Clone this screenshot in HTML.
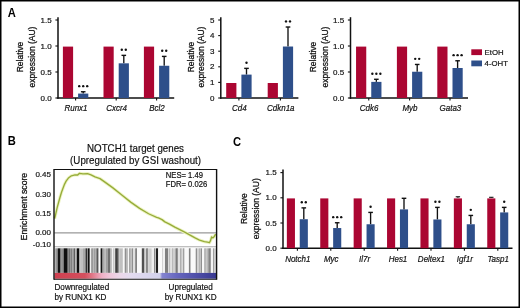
<!DOCTYPE html><html><head><meta charset="utf-8"><style>html,body{margin:0;padding:0;background:#fff}svg{display:block;will-change:transform}text{font-family:"Liberation Sans",sans-serif}</style></head><body>
<svg width="520" height="308" viewBox="0 0 520 308">
<rect x="0" y="0" width="520" height="308" fill="#fff"/>
<text transform="translate(7.7,17.1) scale(1,1.08)" font-size="11.2" text-anchor="start" font-weight="bold" fill="#000" >A</text>
<text transform="translate(7.7,145.4) scale(1,1.08)" font-size="11.2" text-anchor="start" font-weight="bold" fill="#000" >B</text>
<text transform="translate(232.9,145.7) scale(1,1.08)" font-size="11.2" text-anchor="start" font-weight="bold" fill="#000" >C</text>
<text transform="translate(23.4,57) rotate(-90) scale(1,1.1)" font-size="8.5" text-anchor="middle" fill="#111" stroke="#111" stroke-width="0.25">Relative</text>
<text transform="translate(34.8,57) rotate(-90) scale(1,1.1)" font-size="8.5" text-anchor="middle" fill="#111" stroke="#111" stroke-width="0.25">expression (AU)</text>
<line x1="58" y1="17.2" x2="58" y2="98.75" stroke="#111" stroke-width="1.5"/>
<line x1="57.25" y1="98" x2="174.2" y2="98" stroke="#111" stroke-width="1.5"/>
<line x1="55.4" y1="98.00" x2="58" y2="98.00" stroke="#111" stroke-width="1.1"/>
<text x="51.7" y="100.60" font-size="8.0" text-anchor="end" font-weight="normal" fill="#111" stroke="#111" stroke-width="0.18" >0.0</text>
<line x1="55.4" y1="72.00" x2="58" y2="72.00" stroke="#111" stroke-width="1.1"/>
<text x="51.7" y="74.60" font-size="8.0" text-anchor="end" font-weight="normal" fill="#111" stroke="#111" stroke-width="0.18" >0.5</text>
<line x1="55.4" y1="46.00" x2="58" y2="46.00" stroke="#111" stroke-width="1.1"/>
<text x="51.7" y="48.60" font-size="8.0" text-anchor="end" font-weight="normal" fill="#111" stroke="#111" stroke-width="0.18" >1.0</text>
<line x1="55.4" y1="20.00" x2="58" y2="20.00" stroke="#111" stroke-width="1.1"/>
<text x="51.7" y="22.60" font-size="8.0" text-anchor="end" font-weight="normal" fill="#111" stroke="#111" stroke-width="0.18" >1.5</text>
<rect x="62.90" y="46.60" width="10.2" height="51.40" fill="#ab0632"/>
<line x1="83.20" y1="91.76" x2="83.20" y2="93.58" stroke="#111" stroke-width="1.35"/>
<line x1="80.90" y1="91.76" x2="85.50" y2="91.76" stroke="#111" stroke-width="1.4"/>
<rect x="78.10" y="93.58" width="10.2" height="4.42" fill="#2e4f8a"/>
<circle cx="79.20" cy="86.16" r="1.2" fill="#111"/>
<circle cx="83.20" cy="86.16" r="1.2" fill="#111"/>
<circle cx="87.20" cy="86.16" r="1.2" fill="#111"/>
<line x1="75.60" y1="98" x2="75.60" y2="100.6" stroke="#111" stroke-width="1.1"/>
<text transform="translate(76.00,111.3) scale(1,1.1)" font-size="8.0" text-anchor="middle" font-weight="normal" fill="#111" font-style="italic" stroke="#111" stroke-width="0.18" >Runx1</text>
<rect x="103.50" y="46.60" width="10.2" height="51.40" fill="#ab0632"/>
<line x1="123.80" y1="55.36" x2="123.80" y2="63.32" stroke="#111" stroke-width="1.35"/>
<line x1="121.50" y1="55.36" x2="126.10" y2="55.36" stroke="#111" stroke-width="1.4"/>
<rect x="118.70" y="63.32" width="10.2" height="34.68" fill="#2e4f8a"/>
<circle cx="121.80" cy="49.76" r="1.2" fill="#111"/>
<circle cx="125.80" cy="49.76" r="1.2" fill="#111"/>
<line x1="116.20" y1="98" x2="116.20" y2="100.6" stroke="#111" stroke-width="1.1"/>
<text transform="translate(116.60,111.3) scale(1,1.1)" font-size="8.0" text-anchor="middle" font-weight="normal" fill="#111" font-style="italic" stroke="#111" stroke-width="0.18" >Cxcr4</text>
<rect x="143.90" y="46.60" width="10.2" height="51.40" fill="#ab0632"/>
<line x1="164.20" y1="56.40" x2="164.20" y2="65.76" stroke="#111" stroke-width="1.35"/>
<line x1="161.90" y1="56.40" x2="166.50" y2="56.40" stroke="#111" stroke-width="1.4"/>
<rect x="159.10" y="65.76" width="10.2" height="32.24" fill="#2e4f8a"/>
<circle cx="162.20" cy="50.80" r="1.2" fill="#111"/>
<circle cx="166.20" cy="50.80" r="1.2" fill="#111"/>
<line x1="156.60" y1="98" x2="156.60" y2="100.6" stroke="#111" stroke-width="1.1"/>
<text transform="translate(157.00,111.3) scale(1,1.1)" font-size="8.0" text-anchor="middle" font-weight="normal" fill="#111" font-style="italic" stroke="#111" stroke-width="0.18" >Bcl2</text>
<text transform="translate(193.5,57) rotate(-90) scale(1,1.1)" font-size="8.5" text-anchor="middle" fill="#111" stroke="#111" stroke-width="0.25">Relative</text>
<text transform="translate(204.4,57) rotate(-90) scale(1,1.1)" font-size="8.5" text-anchor="middle" fill="#111" stroke="#111" stroke-width="0.25">expression (AU)</text>
<line x1="220.8" y1="17.2" x2="220.8" y2="98.75" stroke="#111" stroke-width="1.5"/>
<line x1="220.05" y1="98" x2="298.4" y2="98" stroke="#111" stroke-width="1.5"/>
<line x1="218.20000000000002" y1="98.00" x2="220.8" y2="98.00" stroke="#111" stroke-width="1.1"/>
<text x="214.5" y="100.60" font-size="8.0" text-anchor="end" font-weight="normal" fill="#111" stroke="#111" stroke-width="0.18" >0</text>
<line x1="218.20000000000002" y1="82.40" x2="220.8" y2="82.40" stroke="#111" stroke-width="1.1"/>
<text x="214.5" y="85.00" font-size="8.0" text-anchor="end" font-weight="normal" fill="#111" stroke="#111" stroke-width="0.18" >1</text>
<line x1="218.20000000000002" y1="66.80" x2="220.8" y2="66.80" stroke="#111" stroke-width="1.1"/>
<text x="214.5" y="69.40" font-size="8.0" text-anchor="end" font-weight="normal" fill="#111" stroke="#111" stroke-width="0.18" >2</text>
<line x1="218.20000000000002" y1="51.20" x2="220.8" y2="51.20" stroke="#111" stroke-width="1.1"/>
<text x="214.5" y="53.80" font-size="8.0" text-anchor="end" font-weight="normal" fill="#111" stroke="#111" stroke-width="0.18" >3</text>
<line x1="218.20000000000002" y1="35.60" x2="220.8" y2="35.60" stroke="#111" stroke-width="1.1"/>
<text x="214.5" y="38.20" font-size="8.0" text-anchor="end" font-weight="normal" fill="#111" stroke="#111" stroke-width="0.18" >4</text>
<line x1="218.20000000000002" y1="20.00" x2="220.8" y2="20.00" stroke="#111" stroke-width="1.1"/>
<text x="214.5" y="22.60" font-size="8.0" text-anchor="end" font-weight="normal" fill="#111" stroke="#111" stroke-width="0.18" >5</text>
<rect x="226.20" y="83.00" width="10.2" height="15.00" fill="#ab0632"/>
<line x1="246.50" y1="68.36" x2="246.50" y2="74.60" stroke="#111" stroke-width="1.35"/>
<line x1="244.20" y1="68.36" x2="248.80" y2="68.36" stroke="#111" stroke-width="1.4"/>
<rect x="241.40" y="74.60" width="10.2" height="23.40" fill="#2e4f8a"/>
<circle cx="246.50" cy="62.76" r="1.2" fill="#111"/>
<line x1="238.90" y1="98" x2="238.90" y2="100.6" stroke="#111" stroke-width="1.1"/>
<text transform="translate(239.30,111.3) scale(1,1.1)" font-size="8.0" text-anchor="middle" font-weight="normal" fill="#111" font-style="italic" stroke="#111" stroke-width="0.18" >Cd4</text>
<rect x="267.70" y="83.00" width="10.2" height="15.00" fill="#ab0632"/>
<line x1="288.00" y1="27.02" x2="288.00" y2="46.52" stroke="#111" stroke-width="1.35"/>
<line x1="285.70" y1="27.02" x2="290.30" y2="27.02" stroke="#111" stroke-width="1.4"/>
<rect x="282.90" y="46.52" width="10.2" height="51.48" fill="#2e4f8a"/>
<circle cx="286.00" cy="21.42" r="1.2" fill="#111"/>
<circle cx="290.00" cy="21.42" r="1.2" fill="#111"/>
<line x1="280.40" y1="98" x2="280.40" y2="100.6" stroke="#111" stroke-width="1.1"/>
<text transform="translate(280.80,111.3) scale(1,1.1)" font-size="8.0" text-anchor="middle" font-weight="normal" fill="#111" font-style="italic" stroke="#111" stroke-width="0.18" >Cdkn1a</text>
<text transform="translate(316.4,57) rotate(-90) scale(1,1.1)" font-size="8.5" text-anchor="middle" fill="#111" stroke="#111" stroke-width="0.25">Relative</text>
<text transform="translate(327.9,57) rotate(-90) scale(1,1.1)" font-size="8.5" text-anchor="middle" fill="#111" stroke="#111" stroke-width="0.25">expression (AU)</text>
<line x1="350.5" y1="17.2" x2="350.5" y2="98.75" stroke="#111" stroke-width="1.5"/>
<line x1="349.75" y1="98" x2="468" y2="98" stroke="#111" stroke-width="1.5"/>
<line x1="347.9" y1="98.00" x2="350.5" y2="98.00" stroke="#111" stroke-width="1.1"/>
<text x="344.2" y="100.60" font-size="8.0" text-anchor="end" font-weight="normal" fill="#111" stroke="#111" stroke-width="0.18" >0.0</text>
<line x1="347.9" y1="72.00" x2="350.5" y2="72.00" stroke="#111" stroke-width="1.1"/>
<text x="344.2" y="74.60" font-size="8.0" text-anchor="end" font-weight="normal" fill="#111" stroke="#111" stroke-width="0.18" >0.5</text>
<line x1="347.9" y1="46.00" x2="350.5" y2="46.00" stroke="#111" stroke-width="1.1"/>
<text x="344.2" y="48.60" font-size="8.0" text-anchor="end" font-weight="normal" fill="#111" stroke="#111" stroke-width="0.18" >1.0</text>
<line x1="347.9" y1="20.00" x2="350.5" y2="20.00" stroke="#111" stroke-width="1.1"/>
<text x="344.2" y="22.60" font-size="8.0" text-anchor="end" font-weight="normal" fill="#111" stroke="#111" stroke-width="0.18" >1.5</text>
<rect x="356.05" y="46.60" width="10.2" height="51.40" fill="#ab0632"/>
<line x1="376.35" y1="79.28" x2="376.35" y2="81.88" stroke="#111" stroke-width="1.35"/>
<line x1="374.05" y1="79.28" x2="378.65" y2="79.28" stroke="#111" stroke-width="1.4"/>
<rect x="371.25" y="81.88" width="10.2" height="16.12" fill="#2e4f8a"/>
<circle cx="372.35" cy="73.68" r="1.2" fill="#111"/>
<circle cx="376.35" cy="73.68" r="1.2" fill="#111"/>
<circle cx="380.35" cy="73.68" r="1.2" fill="#111"/>
<line x1="368.75" y1="98" x2="368.75" y2="100.6" stroke="#111" stroke-width="1.1"/>
<text transform="translate(369.15,111.3) scale(1,1.1)" font-size="8.0" text-anchor="middle" font-weight="normal" fill="#111" font-style="italic" stroke="#111" stroke-width="0.18" >Cdk6</text>
<rect x="396.90" y="46.60" width="10.2" height="51.40" fill="#ab0632"/>
<line x1="417.20" y1="64.46" x2="417.20" y2="71.74" stroke="#111" stroke-width="1.35"/>
<line x1="414.90" y1="64.46" x2="419.50" y2="64.46" stroke="#111" stroke-width="1.4"/>
<rect x="412.10" y="71.74" width="10.2" height="26.26" fill="#2e4f8a"/>
<circle cx="415.20" cy="58.86" r="1.2" fill="#111"/>
<circle cx="419.20" cy="58.86" r="1.2" fill="#111"/>
<line x1="409.60" y1="98" x2="409.60" y2="100.6" stroke="#111" stroke-width="1.1"/>
<text transform="translate(410.00,111.3) scale(1,1.1)" font-size="8.0" text-anchor="middle" font-weight="normal" fill="#111" font-style="italic" stroke="#111" stroke-width="0.18" >Myb</text>
<rect x="437.30" y="46.60" width="10.2" height="51.40" fill="#ab0632"/>
<line x1="457.60" y1="60.77" x2="457.60" y2="68.00" stroke="#111" stroke-width="1.35"/>
<line x1="455.30" y1="60.77" x2="459.90" y2="60.77" stroke="#111" stroke-width="1.4"/>
<rect x="452.50" y="68.00" width="10.2" height="30.00" fill="#2e4f8a"/>
<circle cx="453.60" cy="55.17" r="1.2" fill="#111"/>
<circle cx="457.60" cy="55.17" r="1.2" fill="#111"/>
<circle cx="461.60" cy="55.17" r="1.2" fill="#111"/>
<line x1="450.00" y1="98" x2="450.00" y2="100.6" stroke="#111" stroke-width="1.1"/>
<text transform="translate(450.40,111.3) scale(1,1.1)" font-size="8.0" text-anchor="middle" font-weight="normal" fill="#111" font-style="italic" stroke="#111" stroke-width="0.18" >Gata3</text>
<rect x="471.3" y="49.3" width="10.7" height="5.8" fill="#ab0632"/>
<rect x="471.3" y="60.5" width="10.7" height="5.8" fill="#2e4f8a"/>
<text x="484.6" y="54.6" font-size="7.8" text-anchor="start" font-weight="normal" fill="#111" stroke="#111" stroke-width="0.18" >EtOH</text>
<text x="484.6" y="65.8" font-size="7.8" text-anchor="start" font-weight="normal" fill="#111" stroke="#111" stroke-width="0.18" >4-OHT</text>
<text transform="translate(247.0,208.7) rotate(-90) scale(1,1.1)" font-size="8.5" text-anchor="middle" fill="#111" stroke="#111" stroke-width="0.25">Relative</text>
<text transform="translate(258.6,208.7) rotate(-90) scale(1,1.1)" font-size="8.5" text-anchor="middle" fill="#111" stroke="#111" stroke-width="0.25">expression (AU)</text>
<line x1="283" y1="169.5" x2="283" y2="248.95" stroke="#111" stroke-width="1.5"/>
<line x1="282.25" y1="248.2" x2="512.5" y2="248.2" stroke="#111" stroke-width="1.5"/>
<line x1="280.4" y1="248.20" x2="283" y2="248.20" stroke="#111" stroke-width="1.1"/>
<text x="276.7" y="250.80" font-size="8.0" text-anchor="end" font-weight="normal" fill="#111" stroke="#111" stroke-width="0.18" >0.0</text>
<line x1="280.4" y1="223.00" x2="283" y2="223.00" stroke="#111" stroke-width="1.1"/>
<text x="276.7" y="225.60" font-size="8.0" text-anchor="end" font-weight="normal" fill="#111" stroke="#111" stroke-width="0.18" >0.5</text>
<line x1="280.4" y1="197.80" x2="283" y2="197.80" stroke="#111" stroke-width="1.1"/>
<text x="276.7" y="200.40" font-size="8.0" text-anchor="end" font-weight="normal" fill="#111" stroke="#111" stroke-width="0.18" >1.0</text>
<line x1="280.4" y1="172.60" x2="283" y2="172.60" stroke="#111" stroke-width="1.1"/>
<text x="276.7" y="175.20" font-size="8.0" text-anchor="end" font-weight="normal" fill="#111" stroke="#111" stroke-width="0.18" >1.5</text>
<rect x="286.85" y="198.40" width="8.1" height="49.80" fill="#ab0632"/>
<line x1="303.80" y1="207.88" x2="303.80" y2="219.22" stroke="#111" stroke-width="1.35"/>
<line x1="301.50" y1="207.88" x2="306.10" y2="207.88" stroke="#111" stroke-width="1.4"/>
<rect x="299.75" y="219.22" width="8.1" height="28.98" fill="#2e4f8a"/>
<circle cx="301.80" cy="202.28" r="1.2" fill="#111"/>
<circle cx="305.80" cy="202.28" r="1.2" fill="#111"/>
<line x1="297.40" y1="248.2" x2="297.40" y2="250.79999999999998" stroke="#111" stroke-width="1.1"/>
<text transform="translate(297.80,261.5) scale(1,1.1)" font-size="8.0" text-anchor="middle" font-weight="normal" fill="#111" font-style="italic" stroke="#111" stroke-width="0.18" >Notch1</text>
<rect x="320.25" y="198.40" width="8.1" height="49.80" fill="#ab0632"/>
<line x1="337.20" y1="222.75" x2="337.20" y2="228.04" stroke="#111" stroke-width="1.35"/>
<line x1="334.90" y1="222.75" x2="339.50" y2="222.75" stroke="#111" stroke-width="1.4"/>
<rect x="333.15" y="228.04" width="8.1" height="20.16" fill="#2e4f8a"/>
<circle cx="333.20" cy="217.15" r="1.2" fill="#111"/>
<circle cx="337.20" cy="217.15" r="1.2" fill="#111"/>
<circle cx="341.20" cy="217.15" r="1.2" fill="#111"/>
<line x1="330.80" y1="248.2" x2="330.80" y2="250.79999999999998" stroke="#111" stroke-width="1.1"/>
<text transform="translate(331.20,261.5) scale(1,1.1)" font-size="8.0" text-anchor="middle" font-weight="normal" fill="#111" font-style="italic" stroke="#111" stroke-width="0.18" >Myc</text>
<rect x="353.65" y="198.40" width="8.1" height="49.80" fill="#ab0632"/>
<line x1="370.60" y1="212.42" x2="370.60" y2="224.26" stroke="#111" stroke-width="1.35"/>
<line x1="368.30" y1="212.42" x2="372.90" y2="212.42" stroke="#111" stroke-width="1.4"/>
<rect x="366.55" y="224.26" width="8.1" height="23.94" fill="#2e4f8a"/>
<circle cx="370.60" cy="206.82" r="1.2" fill="#111"/>
<line x1="364.20" y1="248.2" x2="364.20" y2="250.79999999999998" stroke="#111" stroke-width="1.1"/>
<text transform="translate(364.60,261.5) scale(1,1.1)" font-size="8.0" text-anchor="middle" font-weight="normal" fill="#111" font-style="italic" stroke="#111" stroke-width="0.18" >Il7r</text>
<rect x="387.05" y="198.40" width="8.1" height="49.80" fill="#ab0632"/>
<line x1="404.00" y1="198.30" x2="404.00" y2="209.39" stroke="#111" stroke-width="1.35"/>
<line x1="401.70" y1="198.30" x2="406.30" y2="198.30" stroke="#111" stroke-width="1.4"/>
<rect x="399.95" y="209.39" width="8.1" height="38.81" fill="#2e4f8a"/>
<line x1="397.60" y1="248.2" x2="397.60" y2="250.79999999999998" stroke="#111" stroke-width="1.1"/>
<text transform="translate(398.00,261.5) scale(1,1.1)" font-size="8.0" text-anchor="middle" font-weight="normal" fill="#111" font-style="italic" stroke="#111" stroke-width="0.18" >Hes1</text>
<rect x="420.45" y="198.40" width="8.1" height="49.80" fill="#ab0632"/>
<line x1="437.40" y1="207.38" x2="437.40" y2="219.47" stroke="#111" stroke-width="1.35"/>
<line x1="435.10" y1="207.38" x2="439.70" y2="207.38" stroke="#111" stroke-width="1.4"/>
<rect x="433.35" y="219.47" width="8.1" height="28.73" fill="#2e4f8a"/>
<circle cx="435.40" cy="201.78" r="1.2" fill="#111"/>
<circle cx="439.40" cy="201.78" r="1.2" fill="#111"/>
<line x1="431.00" y1="248.2" x2="431.00" y2="250.79999999999998" stroke="#111" stroke-width="1.1"/>
<text transform="translate(431.40,261.5) scale(1,1.1)" font-size="8.0" text-anchor="middle" font-weight="normal" fill="#111" font-style="italic" stroke="#111" stroke-width="0.18" >Deltex1</text>
<rect x="453.85" y="198.40" width="8.1" height="49.80" fill="#ab0632"/>
<line x1="457.90" y1="196.79" x2="457.90" y2="197.80" stroke="#111" stroke-width="1.1"/>
<line x1="455.70" y1="196.79" x2="460.10" y2="196.79" stroke="#111" stroke-width="1.1"/>
<line x1="470.80" y1="215.44" x2="470.80" y2="224.26" stroke="#111" stroke-width="1.35"/>
<line x1="468.50" y1="215.44" x2="473.10" y2="215.44" stroke="#111" stroke-width="1.4"/>
<rect x="466.75" y="224.26" width="8.1" height="23.94" fill="#2e4f8a"/>
<circle cx="470.80" cy="209.84" r="1.2" fill="#111"/>
<line x1="464.40" y1="248.2" x2="464.40" y2="250.79999999999998" stroke="#111" stroke-width="1.1"/>
<text transform="translate(464.80,261.5) scale(1,1.1)" font-size="8.0" text-anchor="middle" font-weight="normal" fill="#111" font-style="italic" stroke="#111" stroke-width="0.18" >Igf1r</text>
<rect x="487.25" y="198.40" width="8.1" height="49.80" fill="#ab0632"/>
<line x1="491.30" y1="197.30" x2="491.30" y2="197.80" stroke="#111" stroke-width="1.1"/>
<line x1="489.10" y1="197.30" x2="493.50" y2="197.30" stroke="#111" stroke-width="1.1"/>
<line x1="504.20" y1="207.38" x2="504.20" y2="212.42" stroke="#111" stroke-width="1.35"/>
<line x1="501.90" y1="207.38" x2="506.50" y2="207.38" stroke="#111" stroke-width="1.4"/>
<rect x="500.15" y="212.42" width="8.1" height="35.78" fill="#2e4f8a"/>
<circle cx="504.20" cy="201.78" r="1.2" fill="#111"/>
<line x1="497.80" y1="248.2" x2="497.80" y2="250.79999999999998" stroke="#111" stroke-width="1.1"/>
<text transform="translate(498.20,261.5) scale(1,1.1)" font-size="8.0" text-anchor="middle" font-weight="normal" fill="#111" font-style="italic" stroke="#111" stroke-width="0.18" >Tasp1</text>
<text transform="translate(135.5,152.1) scale(1,1.06)" font-size="9.75" text-anchor="middle" font-weight="normal" fill="#111" stroke="#111" stroke-width="0.18" >NOTCH1 target genes</text>
<text transform="translate(135.6,164.2) scale(1,1.06)" font-size="9.75" text-anchor="middle" font-weight="normal" fill="#111" stroke="#111" stroke-width="0.18" >(Upregulated by GSI washout)</text>
<text transform="translate(27.2,206.6) rotate(-90)" font-size="8.7" text-anchor="middle" fill="#111" stroke="#111" stroke-width="0.28">Enrichment score</text>
<text x="51" y="176.85" font-size="8" text-anchor="end" font-weight="normal" fill="#111" stroke="#111" stroke-width="0.18" >0.45</text>
<text x="51" y="196.75" font-size="8" text-anchor="end" font-weight="normal" fill="#111" stroke="#111" stroke-width="0.18" >0.30</text>
<text x="51" y="215.75" font-size="8" text-anchor="end" font-weight="normal" fill="#111" stroke="#111" stroke-width="0.18" >0.15</text>
<text x="51" y="234.75" font-size="8" text-anchor="end" font-weight="normal" fill="#111" stroke="#111" stroke-width="0.18" >0.00</text>
<text x="51" y="246.95" font-size="8" text-anchor="end" font-weight="normal" fill="#111" stroke="#111" stroke-width="0.18" >-0.10</text>
<line x1="54.2" y1="232.9" x2="216.3" y2="232.9" stroke="#999" stroke-width="1.1"/>
<line x1="54.2" y1="246.8" x2="216.3" y2="246.8" stroke="#aaa" stroke-width="1.1"/>
<rect x="54.8" y="248.3" width="1.40" height="24.6" fill="rgb(176,176,176)"/>
<rect x="56.2" y="248.3" width="1.80" height="24.6" fill="rgb(128,128,128)"/>
<rect x="58" y="248.3" width="2.30" height="24.6" fill="rgb(21,21,21)"/>
<rect x="60.3" y="248.3" width="1.30" height="24.6" fill="rgb(96,96,96)"/>
<rect x="61.6" y="248.3" width="2.00" height="24.6" fill="rgb(144,144,144)"/>
<rect x="63.6" y="248.3" width="3.50" height="24.6" fill="rgb(16,16,16)"/>
<rect x="67.1" y="248.3" width="1.40" height="24.6" fill="rgb(80,80,80)"/>
<rect x="68.5" y="248.3" width="1.80" height="24.6" fill="rgb(112,112,112)"/>
<rect x="70.3" y="248.3" width="2.20" height="24.6" fill="rgb(128,128,128)"/>
<rect x="72.5" y="248.3" width="1.40" height="24.6" fill="rgb(144,144,144)"/>
<rect x="73.9" y="248.3" width="1.40" height="24.6" fill="rgb(96,96,96)"/>
<rect x="75.3" y="248.3" width="1.50" height="24.6" fill="rgb(176,176,176)"/>
<rect x="76.8" y="248.3" width="2.60" height="24.6" fill="rgb(16,16,16)"/>
<rect x="79.4" y="248.3" width="1.30" height="24.6" fill="rgb(176,176,176)"/>
<rect x="80.7" y="248.3" width="2.30" height="24.6" fill="rgb(192,192,192)"/>
<rect x="83" y="248.3" width="2.50" height="24.6" fill="rgb(168,168,168)"/>
<rect x="85.5" y="248.3" width="1.60" height="24.6" fill="rgb(48,48,48)"/>
<rect x="87.1" y="248.3" width="0.90" height="24.6" fill="rgb(128,128,128)"/>
<rect x="88" y="248.3" width="1.80" height="24.6" fill="rgb(16,16,16)"/>
<rect x="89.8" y="248.3" width="1.40" height="24.6" fill="rgb(240,240,240)"/>
<rect x="91.2" y="248.3" width="1.30" height="24.6" fill="rgb(144,144,144)"/>
<rect x="92.5" y="248.3" width="0.80" height="24.6" fill="rgb(112,112,112)"/>
<rect x="93.3" y="248.3" width="1.00" height="24.6" fill="rgb(176,176,176)"/>
<rect x="94.3" y="248.3" width="1.30" height="24.6" fill="rgb(128,128,128)"/>
<rect x="95.6" y="248.3" width="0.90" height="24.6" fill="rgb(176,176,176)"/>
<rect x="96.5" y="248.3" width="1.40" height="24.6" fill="rgb(64,64,64)"/>
<rect x="97.9" y="248.3" width="0.90" height="24.6" fill="rgb(144,144,144)"/>
<rect x="98.8" y="248.3" width="1.80" height="24.6" fill="rgb(248,248,248)"/>
<rect x="100.6" y="248.3" width="1.90" height="24.6" fill="rgb(21,21,21)"/>
<rect x="102.5" y="248.3" width="1.30" height="24.6" fill="rgb(144,144,144)"/>
<rect x="103.8" y="248.3" width="1.80" height="24.6" fill="rgb(184,184,184)"/>
<rect x="105.6" y="248.3" width="2.30" height="24.6" fill="rgb(160,160,160)"/>
<rect x="107.9" y="248.3" width="2.70" height="24.6" fill="rgb(112,112,112)"/>
<rect x="110.6" y="248.3" width="1.40" height="24.6" fill="rgb(192,192,192)"/>
<rect x="112" y="248.3" width="0.90" height="24.6" fill="rgb(245,245,245)"/>
<rect x="112.9" y="248.3" width="1.80" height="24.6" fill="rgb(200,200,200)"/>
<rect x="114.7" y="248.3" width="0.50" height="24.6" fill="rgb(224,224,224)"/>
<rect x="115.2" y="248.3" width="2.70" height="24.6" fill="rgb(64,64,64)"/>
<rect x="117.9" y="248.3" width="1.40" height="24.6" fill="rgb(144,144,144)"/>
<rect x="119.3" y="248.3" width="3.60" height="24.6" fill="rgb(192,192,192)"/>
<rect x="122.9" y="248.3" width="1.80" height="24.6" fill="rgb(248,248,248)"/>
<rect x="124.7" y="248.3" width="1.40" height="24.6" fill="rgb(144,144,144)"/>
<rect x="126.1" y="248.3" width="1.80" height="24.6" fill="rgb(176,176,176)"/>
<rect x="127.9" y="248.3" width="1.40" height="24.6" fill="rgb(248,248,248)"/>
<rect x="129.3" y="248.3" width="1.30" height="24.6" fill="rgb(128,128,128)"/>
<rect x="130.6" y="248.3" width="1.40" height="24.6" fill="rgb(192,192,192)"/>
<rect x="132" y="248.3" width="1.30" height="24.6" fill="rgb(144,144,144)"/>
<rect x="133.3" y="248.3" width="2.20" height="24.6" fill="rgb(224,224,224)"/>
<rect x="135.5" y="248.3" width="1.30" height="24.6" fill="rgb(64,64,64)"/>
<rect x="136.8" y="248.3" width="5.00" height="24.6" fill="rgb(250,250,250)"/>
<rect x="141.8" y="248.3" width="2.70" height="24.6" fill="rgb(80,80,80)"/>
<rect x="144.5" y="248.3" width="1.40" height="24.6" fill="rgb(208,208,208)"/>
<rect x="145.9" y="248.3" width="0.50" height="24.6" fill="rgb(232,232,232)"/>
<rect x="146.4" y="248.3" width="1.30" height="24.6" fill="rgb(64,64,64)"/>
<rect x="147.7" y="248.3" width="0.90" height="24.6" fill="rgb(192,192,192)"/>
<rect x="148.6" y="248.3" width="3.20" height="24.6" fill="rgb(208,208,208)"/>
<rect x="151.8" y="248.3" width="2.30" height="24.6" fill="rgb(240,240,240)"/>
<rect x="154.1" y="248.3" width="0.90" height="24.6" fill="rgb(128,128,128)"/>
<rect x="155" y="248.3" width="0.90" height="24.6" fill="rgb(208,208,208)"/>
<rect x="155.9" y="248.3" width="2.30" height="24.6" fill="rgb(32,32,32)"/>
<rect x="158.2" y="248.3" width="4.10" height="24.6" fill="rgb(250,250,250)"/>
<rect x="162.3" y="248.3" width="0.90" height="24.6" fill="rgb(192,192,192)"/>
<rect x="163.2" y="248.3" width="1.80" height="24.6" fill="rgb(240,240,240)"/>
<rect x="165" y="248.3" width="3.20" height="24.6" fill="rgb(128,128,128)"/>
<rect x="168.2" y="248.3" width="1.30" height="24.6" fill="rgb(216,216,216)"/>
<rect x="169.5" y="248.3" width="1.00" height="24.6" fill="rgb(144,144,144)"/>
<rect x="170.5" y="248.3" width="1.30" height="24.6" fill="rgb(245,245,245)"/>
<rect x="171.8" y="248.3" width="0.90" height="24.6" fill="rgb(144,144,144)"/>
<rect x="172.7" y="248.3" width="2.60" height="24.6" fill="rgb(208,208,208)"/>
<rect x="175.3" y="248.3" width="1.20" height="24.6" fill="rgb(144,144,144)"/>
<rect x="176.5" y="248.3" width="1.20" height="24.6" fill="rgb(48,48,48)"/>
<rect x="177.7" y="248.3" width="0.90" height="24.6" fill="rgb(248,248,248)"/>
<rect x="178.6" y="248.3" width="0.90" height="24.6" fill="rgb(192,192,192)"/>
<rect x="179.5" y="248.3" width="0.80" height="24.6" fill="rgb(232,232,232)"/>
<rect x="180.3" y="248.3" width="1.30" height="24.6" fill="rgb(144,144,144)"/>
<rect x="181.6" y="248.3" width="1.40" height="24.6" fill="rgb(216,216,216)"/>
<rect x="183" y="248.3" width="0.90" height="24.6" fill="rgb(144,144,144)"/>
<rect x="183.9" y="248.3" width="0.90" height="24.6" fill="rgb(200,200,200)"/>
<rect x="184.8" y="248.3" width="4.10" height="24.6" fill="rgb(248,248,248)"/>
<rect x="188.9" y="248.3" width="1.80" height="24.6" fill="rgb(128,128,128)"/>
<rect x="190.7" y="248.3" width="5.00" height="24.6" fill="rgb(250,250,250)"/>
<rect x="195.7" y="248.3" width="1.40" height="24.6" fill="rgb(144,144,144)"/>
<rect x="197.1" y="248.3" width="2.30" height="24.6" fill="rgb(208,208,208)"/>
<rect x="199.4" y="248.3" width="0.90" height="24.6" fill="rgb(144,144,144)"/>
<rect x="200.3" y="248.3" width="0.40" height="24.6" fill="rgb(208,208,208)"/>
<rect x="200.7" y="248.3" width="1.40" height="24.6" fill="rgb(144,144,144)"/>
<rect x="202.1" y="248.3" width="2.30" height="24.6" fill="rgb(248,248,248)"/>
<rect x="204.4" y="248.3" width="1.30" height="24.6" fill="rgb(144,144,144)"/>
<rect x="205.7" y="248.3" width="1.80" height="24.6" fill="rgb(200,200,200)"/>
<rect x="207.5" y="248.3" width="1.40" height="24.6" fill="rgb(144,144,144)"/>
<rect x="208.9" y="248.3" width="0.50" height="24.6" fill="rgb(208,208,208)"/>
<rect x="209.4" y="248.3" width="1.30" height="24.6" fill="rgb(64,64,64)"/>
<rect x="210.7" y="248.3" width="2.30" height="24.6" fill="rgb(245,245,245)"/>
<rect x="213" y="248.3" width="0.90" height="24.6" fill="rgb(144,144,144)"/>
<rect x="213.9" y="248.3" width="2.10" height="24.6" fill="rgb(208,208,208)"/>
<defs><linearGradient id="cb" x1="0" x2="1" y1="0" y2="0"><stop offset="0" stop-color="#cf3f4f"/><stop offset="0.188" stop-color="#d4505e"/><stop offset="0.23" stop-color="#e07585"/><stop offset="0.293" stop-color="#efb0c6"/><stop offset="0.343" stop-color="#f0c8dc"/><stop offset="0.404" stop-color="#ecd8ea"/><stop offset="0.466" stop-color="#e4dcf0"/><stop offset="0.651" stop-color="#d2d2ec"/><stop offset="0.664" stop-color="#8484d0"/><stop offset="0.75" stop-color="#6868c0"/><stop offset="0.867" stop-color="#5050aa"/><stop offset="1" stop-color="#383890"/></linearGradient></defs>
<rect x="54.5" y="272.9" width="162" height="5.8" fill="url(#cb)"/>
<path d="M54.6,218.5 L55.2,216.3 L57.1,207.9 L59.8,198 L61.6,192 L64.3,184.8 L66.1,181.1 L68.75,177.7 L71.4,175.8 L75,174.9 L77.7,175 L79.5,173.3 L83,173.9 L87.5,173.6 L91,174.8 L95,176.9 L100,178.6 L103.9,181.4 L112.9,187.9 L121.8,195 L130.7,202.1 L139.6,208.4 L148.6,213.75 L156.6,217.3 L158.4,217.9 L162,219.6 L164.9,221.9 L169.9,224.3 L174.8,227.2 L179.8,229.7 L184.7,232.2 L189.6,234.8 L194.6,237.7 L199.5,240.1 L204.4,241.7 L207.5,242.2 L209.4,242.7 L210.6,240.4 L211.6,236.9 L212.8,237.9 L214.3,236.4 L215.6,234.2" fill="none" stroke="#eef4c4" stroke-width="3.2" stroke-linejoin="round"/>
<path d="M54.6,218.5 L55.2,216.3 L57.1,207.9 L59.8,198 L61.6,192 L64.3,184.8 L66.1,181.1 L68.75,177.7 L71.4,175.8 L75,174.9 L77.7,175 L79.5,173.3 L83,173.9 L87.5,173.6 L91,174.8 L95,176.9 L100,178.6 L103.9,181.4 L112.9,187.9 L121.8,195 L130.7,202.1 L139.6,208.4 L148.6,213.75 L156.6,217.3 L158.4,217.9 L162,219.6 L164.9,221.9 L169.9,224.3 L174.8,227.2 L179.8,229.7 L184.7,232.2 L189.6,234.8 L194.6,237.7 L199.5,240.1 L204.4,241.7 L207.5,242.2 L209.4,242.7 L210.6,240.4 L211.6,236.9 L212.8,237.9 L214.3,236.4 L215.6,234.2" fill="none" stroke="#96ac3a" stroke-width="1.35" stroke-linejoin="round"/>
<path d="M54,169.5 H216.6 M54,279.2 H216.6" stroke="#111" stroke-width="1.1" fill="none"/>
<path d="M54,169 V279.8 M216.6,169 V279.8" stroke="#111" stroke-width="1.4" fill="none"/>
<text transform="translate(165.8,178.0) scale(1,1.1)" font-size="7.65" text-anchor="start" font-weight="normal" fill="#111" stroke="#111" stroke-width="0.18" >NES= 1.49</text>
<text transform="translate(165.8,186.5) scale(1,1.1)" font-size="7.65" text-anchor="start" font-weight="normal" fill="#111" stroke="#111" stroke-width="0.18" >FDR= 0.026</text>
<text x="54.5" y="289.5" font-size="8.15" text-anchor="start" font-weight="normal" fill="#111" stroke="#111" stroke-width="0.18" >Downregulated</text>
<text x="54.5" y="299.5" font-size="8.15" text-anchor="start" font-weight="normal" fill="#111" stroke="#111" stroke-width="0.18" >by RUNX1 KD</text>
<text x="190.7" y="289.5" font-size="8.15" text-anchor="middle" font-weight="normal" fill="#111" stroke="#111" stroke-width="0.18" >Upregulated</text>
<text x="190.7" y="299.5" font-size="8.15" text-anchor="middle" font-weight="normal" fill="#111" stroke="#111" stroke-width="0.18" >by RUNX1 KD</text>
<rect x="0.75" y="0.75" width="518.5" height="306.5" fill="none" stroke="#000" stroke-width="1.5"/>
</svg></body></html>
